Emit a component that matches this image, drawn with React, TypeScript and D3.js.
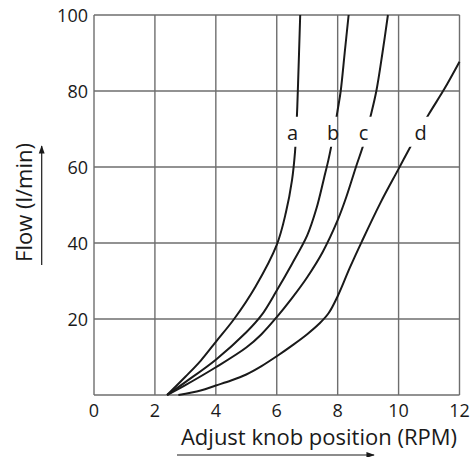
import React from "react";
import * as d3 from "d3";

const xTicks = [0, 2, 4, 6, 8, 10, 12];
const yTicks = [20, 40, 60, 80, 100];
const yGrid = [0, 20, 40, 60, 80, 100];

const curveA: [number, number][] = [
  [2.4, 0], [3, 4.8], [3.5, 9], [4, 14], [4.6, 20], [5.3, 28.5], [6, 39.5],
  [6.3, 48], [6.5, 56.5], [6.6, 64], [6.66, 73], [6.7, 82], [6.77, 100],
];
const curveB: [number, number][] = [
  [2.4, 0], [3, 3.4], [4, 9.3], [5, 16.5], [5.5, 21], [6, 27.5], [6.5, 34.5], [7, 42],
  [7.3, 49], [7.55, 57], [7.7, 62], [7.85, 68], [8, 75], [8.1, 80], [8.23, 90], [8.36, 100],
];
const curveC: [number, number][] = [
  [2.4, 0], [3, 2.6], [4, 7.3], [5, 12.5], [5.5, 16], [6, 20.5], [6.5, 25.5], [7, 31],
  [7.5, 37.5], [8, 46], [8.3, 52.5], [8.6, 60], [8.87, 66.5], [9.07, 73], [9.27, 80],
  [9.47, 90], [9.65, 100],
];
const curveD: [number, number][] = [
  [2.77, 0], [3.5, 1.2], [4, 2.5], [4.5, 3.8], [5, 5.4], [5.5, 7.6], [6, 10.2], [6.5, 13],
  [7, 16], [7.4, 18.8], [7.7, 21.5], [8, 26], [8.4, 33.5], [8.8, 40.5], [9.4, 50.5],
  [10, 59.5], [10.5, 67], [11, 74], [11.5, 80.5], [12, 87.7],
];
const series = [curveA, curveB, curveC, curveD];
const seriesLabels = ["a", "b", "c", "d"];
const labelX = [6.52, 7.85, 8.85, 10.72];
const labelY = 69;
const gapLow = 65.3;
const gapHigh = 73.2;

const xTitle = "Adjust knob position (RPM)";
const yTitle = "Flow (l/min)";

const W = 470;
const H = 457;
const left = 94;
const right = 459.5;
const top = 15;
const bottom = 395;

export default function App() {
  const x = d3.scaleLinear().domain([0, 12]).range([left, right]);
  const y = d3.scaleLinear().domain([0, 100]).range([bottom, top]);
  const line = d3
    .line<[number, number]>()
    .x((d) => x(d[0]))
    .y((d) => y(d[1]))
    .curve(d3.curveCatmullRom.alpha(0.5));
  const font = "'Open Sans', 'Noto Sans', sans-serif";
  const gridColor = "#6e6e6e";
  const ink = "#1a1a1a";
  return (
    <svg
      width={W}
      height={H}
      style={{ position: "absolute", left: 0, top: 0, background: "#fff" }}
      fontFamily={font}
    >
      <defs>
        <clipPath id="gapclip">
          <rect x={0} y={0} width={W} height={y(gapHigh)} />
          <rect x={0} y={y(gapLow)} width={W} height={H - y(gapLow)} />
        </clipPath>
        <marker id="arrowhead" viewBox="0 0 10 10" refX={9} refY={5} markerWidth={7} markerHeight={7} orient="auto">
          <path d="M0,1.5 L10,5 L0,8.5 z" fill={ink} />
        </marker>
      </defs>
      {xTicks.map((t) => (
        <line key={"vx" + t} x1={x(t)} x2={x(t)} y1={y(0)} y2={y(100)} stroke={gridColor} strokeWidth={1.4} />
      ))}
      {yGrid.map((t) => (
        <line key={"hy" + t} x1={x(0)} x2={x(12)} y1={y(t)} y2={y(t)} stroke={gridColor} strokeWidth={1.4} />
      ))}
      <g clipPath="url(#gapclip)">
        {series.map((s, i) => (
          <path key={i} d={line(s) || ""} fill="none" stroke={ink} strokeWidth={2} />
        ))}
      </g>
      {seriesLabels.map((l, i) => (
        <text key={l} x={x(labelX[i])} y={y(labelY)} textAnchor="middle" dominantBaseline="central" fontSize={20} fill={ink}>
          {l}
        </text>
      ))}
      {xTicks.map((t) => (
        <text key={"tx" + t} x={x(t)} y={417} textAnchor="middle" fontSize={18} fill={ink}>
          {t}
        </text>
      ))}
      {yTicks.map((t) => (
        <text key={"ty" + t} x={88} y={y(t)} textAnchor="end" dominantBaseline="central" fontSize={18} fill={ink}>
          {t}
        </text>
      ))}
      <text x={319} y={444.5} textAnchor="middle" fontSize={22} fill={ink}>
        {xTitle}
      </text>
      <line x1={177} x2={374} y1={455} y2={455} stroke={ink} strokeWidth={1.2} markerEnd="url(#arrowhead)" />
      <text
        transform={`translate(31.5, 202.5) rotate(-90)`}
        textAnchor="middle"
        fontSize={22}
        fill={ink}
      >
        {yTitle}
      </text>
      <line x1={41.7} x2={41.7} y1={265} y2={146} stroke={ink} strokeWidth={1.2} markerEnd="url(#arrowhead)" />
    </svg>
  );
}
